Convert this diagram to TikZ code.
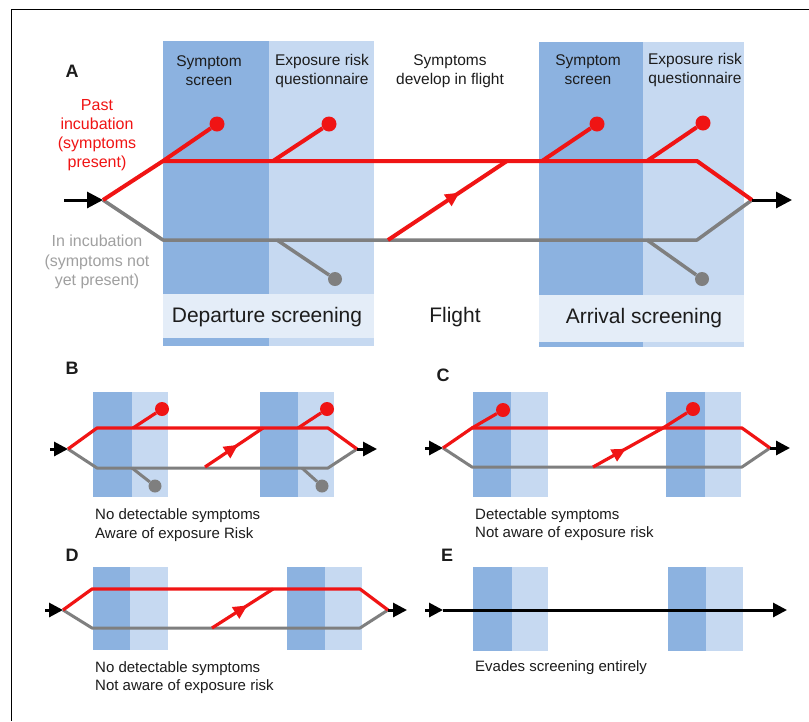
\documentclass[tikz,border=0pt]{standalone}
\usepackage{fontspec}
\setmainfont{Liberation Sans}
\usetikzlibrary{arrows.meta,decorations.markings}
\definecolor{SB}{HTML}{8CB2E0}
\definecolor{QB}{HTML}{C6D9F1}
\definecolor{BB}{HTML}{E4EDF8}
\definecolor{LR}{HTML}{F01414}
\definecolor{LG}{HTML}{7F7F7F}
\definecolor{TG}{HTML}{A0A0A0}
\definecolor{TX}{HTML}{1C1C1C}

\begin{document}
\begin{tikzpicture}[x=1pt, y=-1pt,
    redpath/.style={draw=LR, line width=#1, line join=round},
    redpath/.default=4pt,
    graypath/.style={draw=LG, line width=#1, line join=round},
    graypath/.default=3.5pt,
    reddot/.style={circle, fill=LR, inner sep=0pt, minimum size=#1},
    reddot/.default=15pt,
    graydot/.style={circle, fill=LG, inner sep=0pt, minimum size=#1},
    graydot/.default=14pt,
    flow/.style={draw=black, line width=3pt, -{Triangle[length=#1,width=#1]}},
    flow/.default=16pt,
    midarrow/.style={postaction={decorate}, decoration={markings,
      mark=at position #1 with {\arrow{Triangle[length=14pt,width=13pt]}}}},
    hdr/.style={font=\fontsize{15.5}{19}\selectfont, text=TX, align=center},
    stage/.style={font=\fontsize{21}{21}\selectfont, text=TX},
    captxt/.style={font=\fontsize{15}{18.5}\selectfont, text=TX, align=left,
      anchor=west, inner sep=0pt},
    paneltag/.style={font=\fontsize{18}{18}\selectfont\bfseries, text=TX}]
  \useasboundingbox (0,0) rectangle (809,721);
  \fill[white] (0,0) rectangle (809,721);
  \draw[line width=1pt] (809,9) -- (11,9) -- (11,721);

  %% panel A -- screening columns
  \fill[SB] (163,41) rectangle (269,346);
  \fill[QB] (269,41) rectangle (374,346);
  \fill[SB] (539,42) rectangle (643,347);
  \fill[QB] (643,42) rectangle (744,347);
  \fill[BB] (163,294) rectangle (374,338);
  \fill[BB] (539,295) rectangle (744,342);

  %% small panels: symptom / questionnaire columns
  \foreach \xa/\xb/\xc/\ya/\yb in {93/132/168/392/497, 260/298/334/392/497,
      473/511/548/392/497, 666/705/741/392/497, 93/130/168/567/650,
      287/325/362/567/650, 473/512/548/567/651, 668/706/743/567/651}{
    \fill[SB] (\xa,\ya) rectangle (\xb,\yb);
    \fill[QB] (\xb,\ya) rectangle (\xc,\yb);
  }

  %% panel A
  \coordinate (inA) at (64,200);
  \coordinate (splitA) at (103,200);
  \coordinate (rA1) at (163,161);
  \coordinate (rA2) at (697,161);
  \coordinate (gA1) at (163,240);
  \coordinate (gA2) at (697,240);
  \coordinate (joinA) at (752,200);
  \coordinate (outA) at (792,200);
  \coordinate (rqDep) at (273,161);
  \coordinate (rsArr) at (542,161);
  \coordinate (rqArr) at (647,161);
  \coordinate (gqDep) at (277,240);
  \coordinate (gqArr) at (647,240);
  \coordinate (fA1) at (388,240);
  \coordinate (fA2) at (507,161);
  \node[reddot] (rdA1) at (217,124) {};
  \node[reddot] (rdA2) at (329,124) {};
  \node[reddot] (rdA3) at (597,124) {};
  \node[reddot] (rdA4) at (703,123) {};
  \node[graydot] (gdA1) at (335,279) {};
  \node[graydot] (gdA2) at (702,279) {};

  \draw[graypath] (splitA) -- (gA1) -- (gA2) -- (joinA);
  \draw[graypath] (gqDep) -- (gdA1);
  \draw[graypath] (gqArr) -- (gdA2);
  \draw[redpath] (splitA) -- (rA1) -- (rA2) -- (joinA);
  \draw[redpath] (rA1) -- (rdA1);
  \draw[redpath] (rqDep) -- (rdA2);
  \draw[redpath] (rsArr) -- (rdA3);
  \draw[redpath] (rqArr) -- (rdA4);
  \draw[redpath, midarrow=0.6] (fA1) -- (fA2);
  \draw[flow] (inA) -- (splitA);
  \draw[flow] (joinA) -- (outA);

  \node[paneltag] (tagA) at (72,71) {A};
  \node[hdr, text=LR, font=\fontsize{16}{19}\selectfont] (pastA) at (97,135.5)
    {Past\\incubation\\(symptoms\\present)};
  \node[hdr, text=TG, font=\fontsize{16}{19.5}\selectfont] (incA) at (97,262)
    {In incubation\\(symptoms not\\yet present)};
  \node[hdr] (ssDep) at (209,70.5) {Symptom\\screen};
  \node[hdr] (erDep) at (322,70.5) {Exposure risk\\questionnaire};
  \node[hdr] (devA) at (450,71.5) {Symptoms\\develop in flight};
  \node[hdr] (ssArr) at (588,69.5) {Symptom\\screen};
  \node[hdr] (erArr) at (695,69.5) {Exposure risk\\questionnaire};
  \node[stage] (depA) at (267,317) {Departure screening};
  \node[stage] (fltA) at (455,317) {Flight};
  \node[stage] (arrA) at (644,318) {Arrival screening};

  %% panel B
  \coordinate (inB) at (50,449);
  \coordinate (splitB) at (68,449);
  \coordinate (rB1) at (97,428);
  \coordinate (rB2) at (328,428);
  \coordinate (gB1) at (97,468);
  \coordinate (gB2) at (328,468);
  \coordinate (joinB) at (357,449);
  \coordinate (outB) at (377,449);
  \coordinate (rqB1) at (133,428);
  \coordinate (rqB2) at (298,428);
  \coordinate (gqB1) at (132,468);
  \coordinate (gqB2) at (302,468);
  \coordinate (fB1) at (205,467);
  \coordinate (fB2) at (263,428);
  \node[reddot=14pt] (rdB1) at (162,409) {};
  \node[reddot=14pt] (rdB2) at (327,409) {};
  \node[graydot=13pt] (gdB1) at (155,486) {};
  \node[graydot=13pt] (gdB2) at (322,486) {};
  \draw[graypath=3pt] (splitB) -- (gB1) -- (gB2) -- (joinB);
  \draw[graypath=3pt] (gqB1) -- (gdB1);
  \draw[graypath=3pt] (gqB2) -- (gdB2);
  \draw[redpath=3.2pt] (splitB) -- (rB1) -- (rB2) -- (joinB);
  \draw[redpath=3.2pt] (rqB1) -- (rdB1);
  \draw[redpath=3.2pt] (rqB2) -- (rdB2);
  \draw[redpath=3.2pt, midarrow=0.57] (fB1) -- (fB2);
  \draw[flow=14pt] (inB) -- (splitB);
  \draw[flow=14pt] (joinB) -- (outB);
  \node[paneltag] (tagB) at (72,368) {B};
  \node[captxt] (capB) at (95,525) {No detectable symptoms\\Aware of exposure Risk};

  %% panel C
  \coordinate (inC) at (425,448);
  \coordinate (splitC) at (443,448);
  \coordinate (rC1) at (472,428);
  \coordinate (rC2) at (742,428);
  \coordinate (gC1) at (472,467);
  \coordinate (gC2) at (742,467);
  \coordinate (joinC) at (770,448);
  \coordinate (outC) at (790,448);
  \coordinate (fC1) at (593,467);
  \coordinate (fC2) at (663,428);
  \node[reddot=14pt] (rdC1) at (503,410) {};
  \node[reddot=14pt] (rdC2) at (693,409) {};
  \draw[graypath=3pt] (splitC) -- (gC1) -- (gC2) -- (joinC);
  \draw[redpath=3.2pt] (splitC) -- (rC1) -- (rC2) -- (joinC);
  \draw[redpath=3.2pt] (rC1) -- (rdC1);
  \draw[redpath=3.2pt, midarrow=0.47] (fC1) -- (fC2);
  \draw[redpath=3.2pt] (fC2) -- (rdC2);
  \draw[flow=14pt] (inC) -- (splitC);
  \draw[flow=14pt] (joinC) -- (outC);
  \node[paneltag] (tagC) at (443,375) {C};
  \node[captxt] (capC) at (475,524.5) {Detectable symptoms\\Not aware of exposure risk};

  %% panel D
  \coordinate (inD) at (45,610);
  \coordinate (splitD) at (63,610);
  \coordinate (rD1) at (92,589);
  \coordinate (rD2) at (360,589);
  \coordinate (gD1) at (92,628);
  \coordinate (gD2) at (360,628);
  \coordinate (joinD) at (388,610);
  \coordinate (outD) at (407,610);
  \coordinate (fD1) at (212,628);
  \coordinate (fD2) at (273,589);
  \draw[graypath=3pt] (splitD) -- (gD1) -- (gD2) -- (joinD);
  \draw[redpath=3.2pt] (splitD) -- (rD1) -- (rD2) -- (joinD);
  \draw[redpath=3.2pt, midarrow=0.58] (fD1) -- (fD2);
  \draw[flow=14pt] (inD) -- (splitD);
  \draw[flow=14pt] (joinD) -- (outD);
  \node[paneltag] (tagD) at (72,555) {D};
  \node[captxt] (capD) at (95,677.5) {No detectable symptoms\\Not aware of exposure risk};

  %% panel E
  \coordinate (inE) at (425,610);
  \coordinate (tipE) at (443,610);
  \coordinate (outE) at (787,610);
  \draw[flow=14pt] (inE) -- (tipE);
  \draw[flow=14pt] (tipE) -- (outE);
  \node[paneltag] (tagE) at (447,555) {E};
  \node[captxt] (capE) at (475,668) {Evades screening entirely};
\end{tikzpicture}
\end{document}
